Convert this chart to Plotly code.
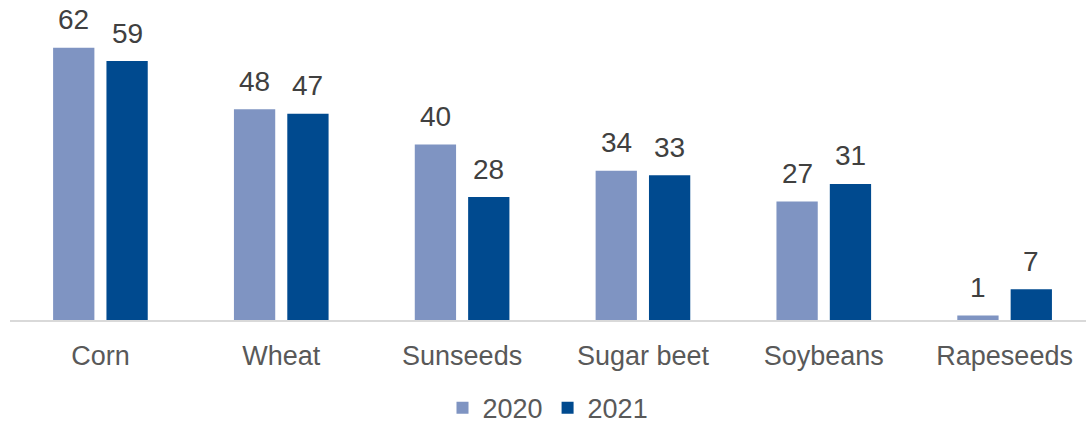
import plotly.graph_objects as go

categories = ["Corn", "Wheat", "Sunseeds", "Sugar beet", "Soybeans", "Rapeseeds"]
values_2020 = [62, 48, 40, 34, 27, 1]
values_2021 = [59, 47, 28, 33, 31, 7]
series_names = ["2020", "2021"]
colors = ["#7F94C2", "#004A8F"]

W, H = 1086, 427
ml, mr, mt, mb = 10, 0, 0, 107
x_range = [-0.5, 5.45]
plot_w = W - ml - mr
cat_w = plot_w / (x_range[1] - x_range[0])
bargap = 0.41
slot = cat_w * (1 - bargap) / 2
FONT = "Liberation Sans, Arial"

fig = go.Figure()
for name, vals, col in zip(series_names, [values_2020, values_2021], colors):
    fig.add_trace(go.Bar(x=categories, y=vals, name=name, marker_color=col,
                         marker_line_width=0))

for i, vals in enumerate([values_2020, values_2021]):
    shift = (i - 0.5) * slot
    for c, v in zip(categories, vals):
        fig.add_annotation(x=c, y=v, xref="x", yref="y", text=str(v), showarrow=False,
                           xshift=shift, yshift=28, yanchor="middle",
                           font=dict(family=FONT, size=28, color="#404040"))

fig.update_layout(
    width=W, height=H, margin=dict(l=ml, r=mr, t=mt, b=mb, autoexpand=False),
    barmode="group", bargap=bargap, bargroupgap=0.226,
    plot_bgcolor="white", paper_bgcolor="white",
    font=dict(family=FONT, size=27, color="#595959"),
    showlegend=True,
    legend=dict(orientation="h", x=0.5, xanchor="center", y=-0.352, yanchor="bottom",
                font=dict(size=27, color="#595959"), itemwidth=30, traceorder="normal"),
    xaxis=dict(showline=True, linecolor="#D9D9D9", linewidth=2, ticks="outside",
               ticklen=11, tickcolor="rgba(0,0,0,0)", automargin=False, range=x_range,
               tickfont=dict(size=27, color="#595959"), showgrid=False),
    yaxis=dict(visible=False, range=[0, 72.9], showgrid=False, zeroline=False,
               automargin=False),
)
fig.write_html("out.html", config={"displayModeBar": False},
               post_script="document.body.style.margin='0';document.body.style.overflow='hidden';")
